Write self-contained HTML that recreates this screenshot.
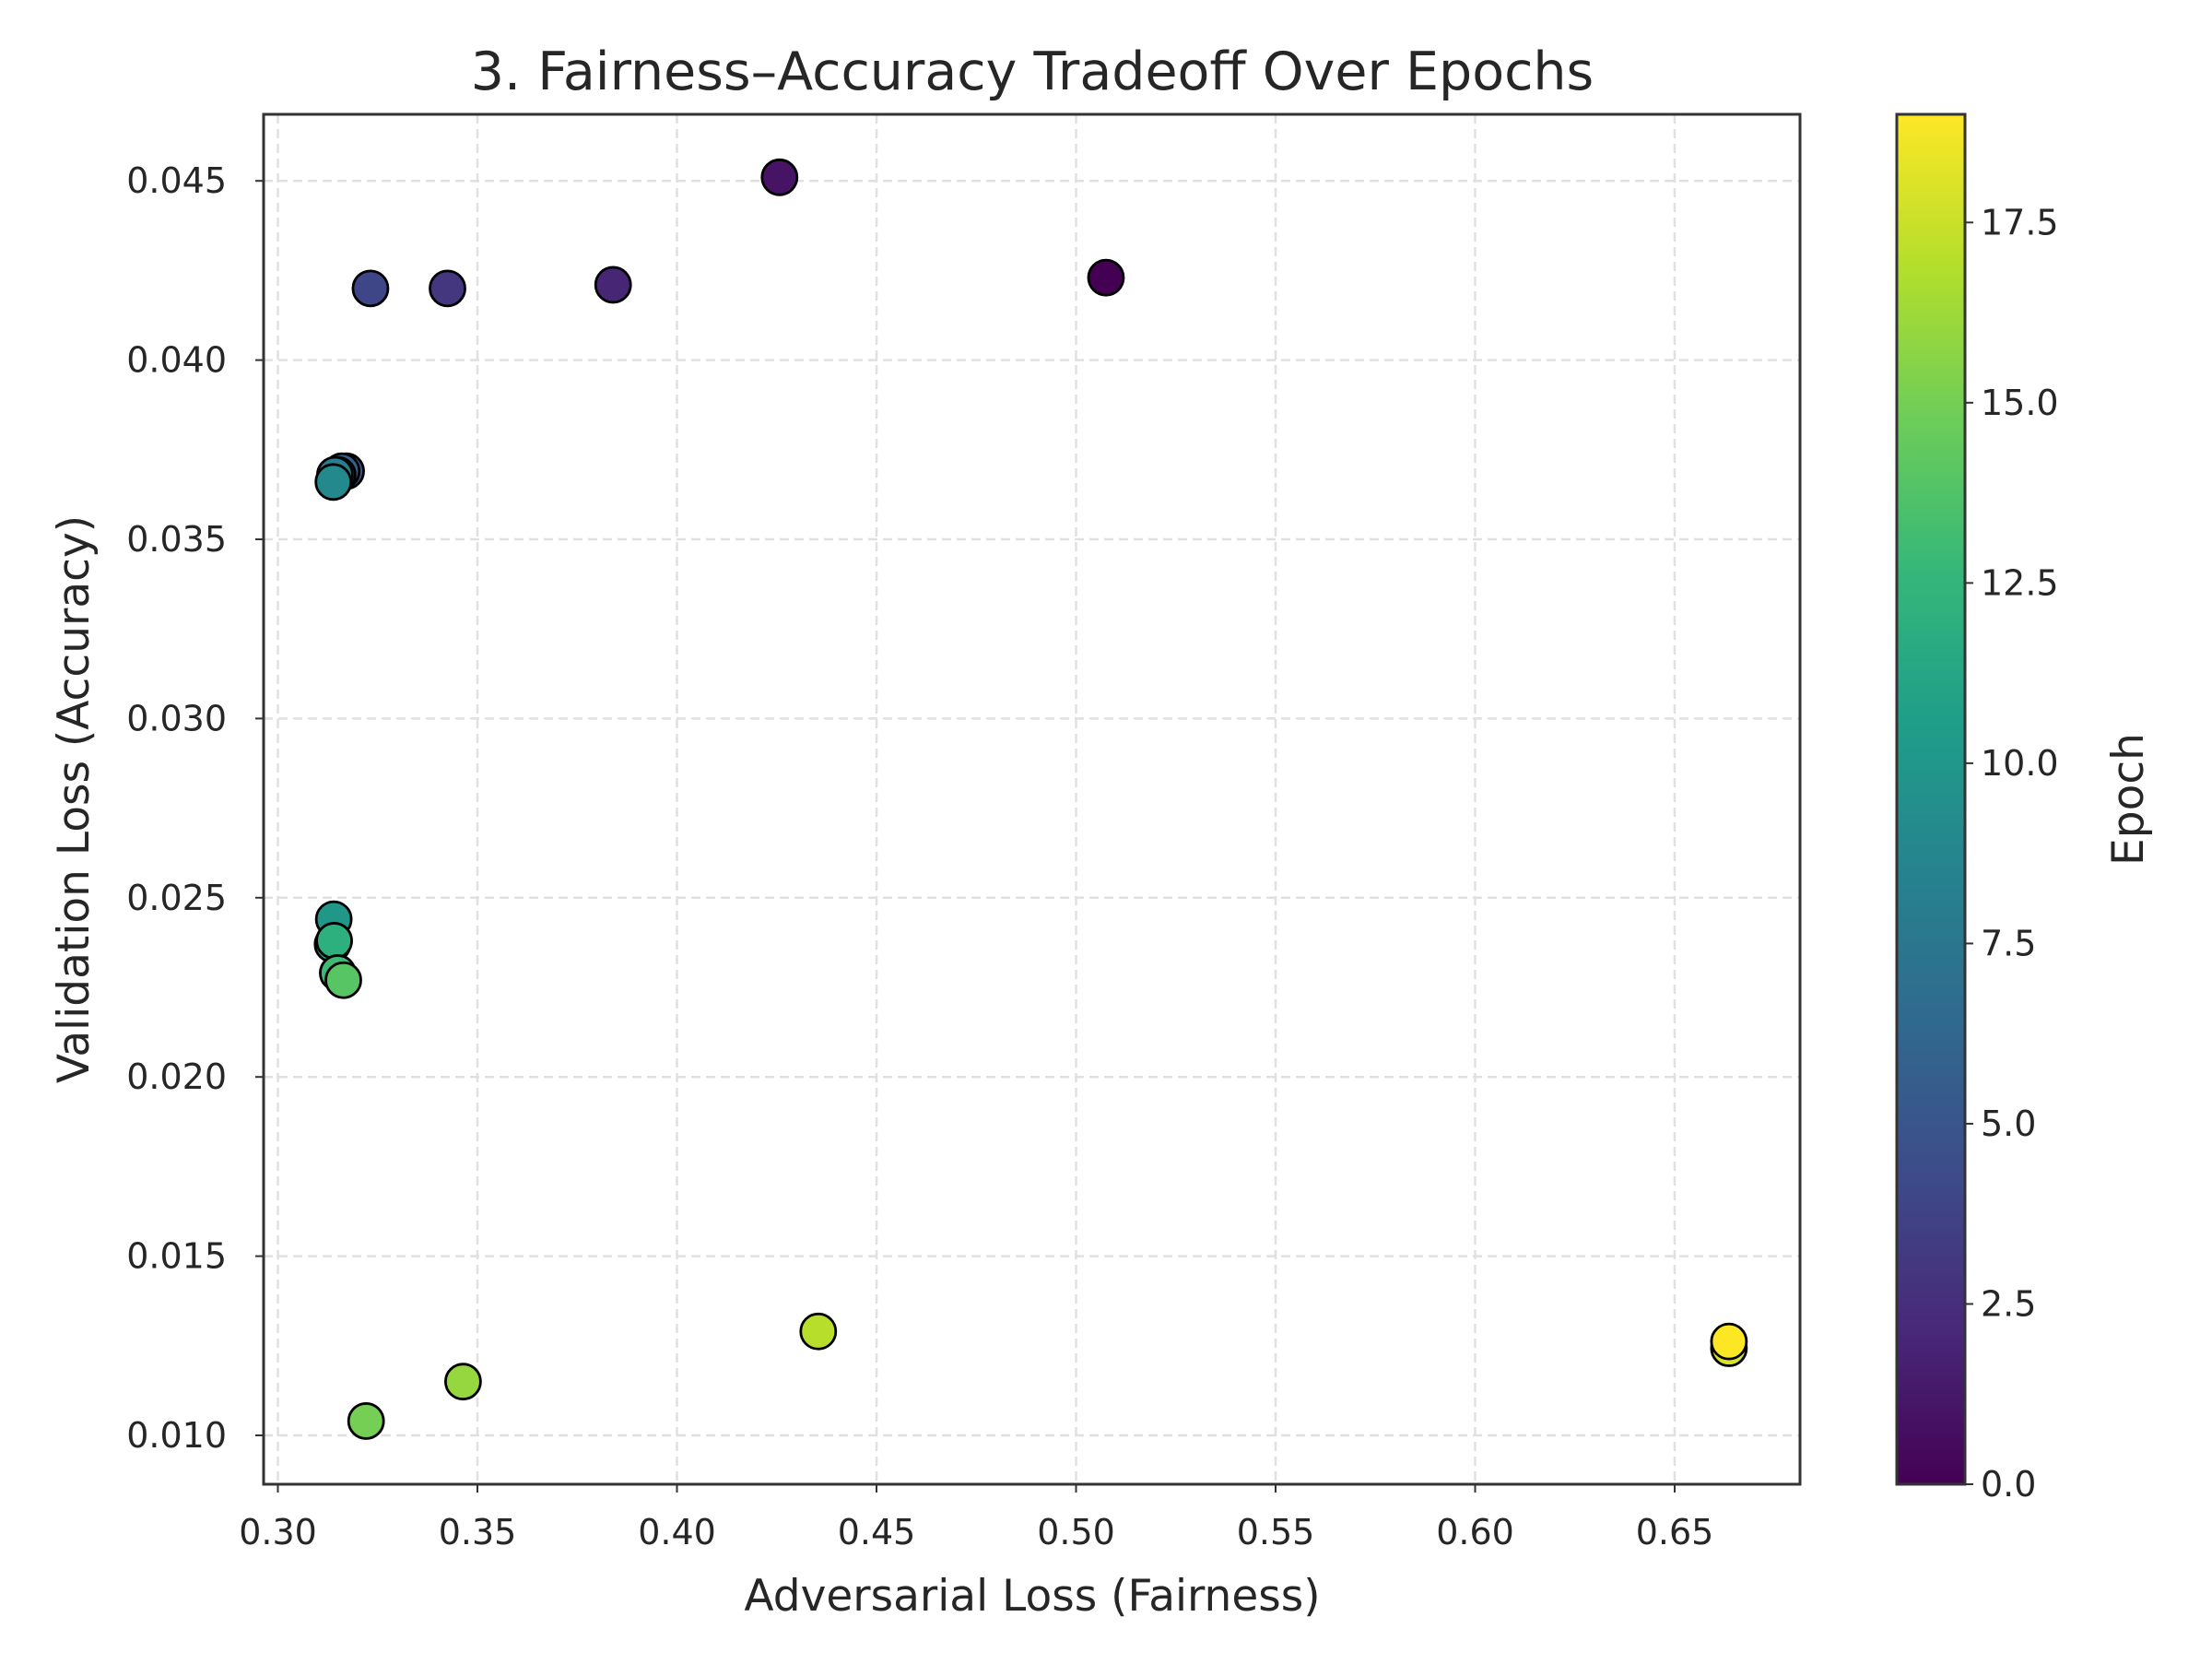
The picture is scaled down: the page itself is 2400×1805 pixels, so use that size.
<!DOCTYPE html>
<html><head><meta charset="utf-8"><style>
body{margin:0;background:#fff}
svg text{font-family:"DejaVu Sans","Liberation Sans",sans-serif;fill:#262626}
</style></head><body>
<svg id="c" width="2400" height="1800" viewBox="0 0 2400 1800"></svg>
<script>
const epochs=[0,1,2,3,4,5,6,7,8,9,10,11,12,13,14,15,16,17,18,19];
const advLoss=[0.5075,0.4257,0.384,0.3425,0.3232,0.3171,0.3160,0.3150,0.3143,0.3139,0.3140,0.3137,0.3141,0.3150,0.3164,0.3221,0.3464,0.4354,0.6636,0.6636];
const valLoss=[0.0423,0.0451,0.0421,0.0420,0.0420,0.0369,0.0369,0.0368,0.0368,0.0366,0.0244,0.0237,0.0238,0.0229,0.0227,0.0104,0.0115,0.0129,0.01243,0.01262];
const xTicks=[0.30,0.35,0.40,0.45,0.50,0.55,0.60,0.65];
const yTicks=[0.010,0.015,0.020,0.025,0.030,0.035,0.040,0.045];
const cTicks=[0,2.5,5,7.5,10,12.5,15,17.5];
const L=286,R=1953,T=124,B=1610;
const X=v=>301.5+(v-0.30)/0.05*216.5;
const Y=v=>1557-(v-0.010)/0.005*194.4;
const CB={x:2058,w:74,t:124,b:1610,max:19};
const CY=v=>CB.b-(v/CB.max)*(CB.b-CB.t);
const vir=[[68,1,84],[72,40,120],[62,74,137],[49,104,142],[38,130,142],[31,158,137],[53,183,121],[109,205,89],[180,222,44],[253,231,37]];
function col(t){t=Math.max(0,Math.min(1,t))*(vir.length-1);const i=Math.min(Math.floor(t),vir.length-2),f=t-i;const c=vir[i].map((a,k)=>Math.round(a+(vir[i+1][k]-a)*f));return `rgb(${c})`;}
const s=document.getElementById('c');const NS='http://www.w3.org/2000/svg';
function E(tag,a,p){const e=document.createElementNS(NS,tag);for(const k in a)e.setAttribute(k,a[k]);(p||s).appendChild(e);return e;}
let t=E('text',{x:1120,y:97,'text-anchor':'middle','font-size':57});t.textContent='3. Fairness–Accuracy Tradeoff Over Epochs';


xTicks.forEach(v=>{const x=X(v);
let g=E('line',{x1:x,x2:x,y1:T,y2:B,stroke:'#e0e0e0','stroke-width':2.5,'stroke-dasharray':'10,6'});


E('line',{x1:x,x2:x,y1:B,y2:B+9,stroke:'#333','stroke-width':2});
let l=E('text',{x:x,y:B+65,'text-anchor':'middle','font-size':38});l.textContent=v.toFixed(2);

});
yTicks.forEach(v=>{const y=Y(v);
let g=E('line',{x1:L,x2:R,y1:y,y2:y,stroke:'#e0e0e0','stroke-width':2.5,'stroke-dasharray':'10,6'});


E('line',{x1:L-9,x2:L,y1:y,y2:y,stroke:'#333','stroke-width':2});
let l=E('text',{x:L-40,y:y+13,'text-anchor':'end','font-size':38});l.textContent=v.toFixed(3);

});
let fr=E('rect',{x:L,y:T,width:R-L,height:B-T,fill:'none',stroke:'#333','stroke-width':3});


epochs.forEach((e,i)=>{let c=E('circle',{cx:X(advLoss[i]),cy:Y(valLoss[i]),r:19,fill:col(e/CB.max),stroke:'#000','stroke-width':2.8});

});
let xl=E('text',{x:1120,y:1747,'text-anchor':'middle','font-size':47});xl.textContent='Adversarial Loss (Fairness)';


let yl=E('text',{x:0,y:0,'text-anchor':'middle','font-size':47,transform:`translate(96,${(T+B)/2}) rotate(-90)`});yl.textContent='Validation Loss (Accuracy)';


const defs=E('defs',{});const gr=E('linearGradient',{id:'vg',x1:0,y1:1,x2:0,y2:0},defs);
vir.forEach((c,i)=>E('stop',{offset:i/(vir.length-1),'stop-color':`rgb(${c})`},gr));
let cb=E('rect',{x:CB.x,y:CB.t,width:CB.w,height:CB.b-CB.t,fill:'url(#vg)',stroke:'#333','stroke-width':3});


cTicks.forEach(v=>{const y=CY(v);E('line',{x1:CB.x+CB.w,x2:CB.x+CB.w+9,y1:y,y2:y,stroke:'#333','stroke-width':2});
let l=E('text',{x:CB.x+CB.w+17,y:y+13,'font-size':38});l.textContent=v.toFixed(1);

});
let cl=E('text',{x:0,y:0,'text-anchor':'middle','font-size':47,transform:`translate(2325,${(CB.t+CB.b)/2}) rotate(-90)`});cl.textContent='Epoch';


</script></body></html>
